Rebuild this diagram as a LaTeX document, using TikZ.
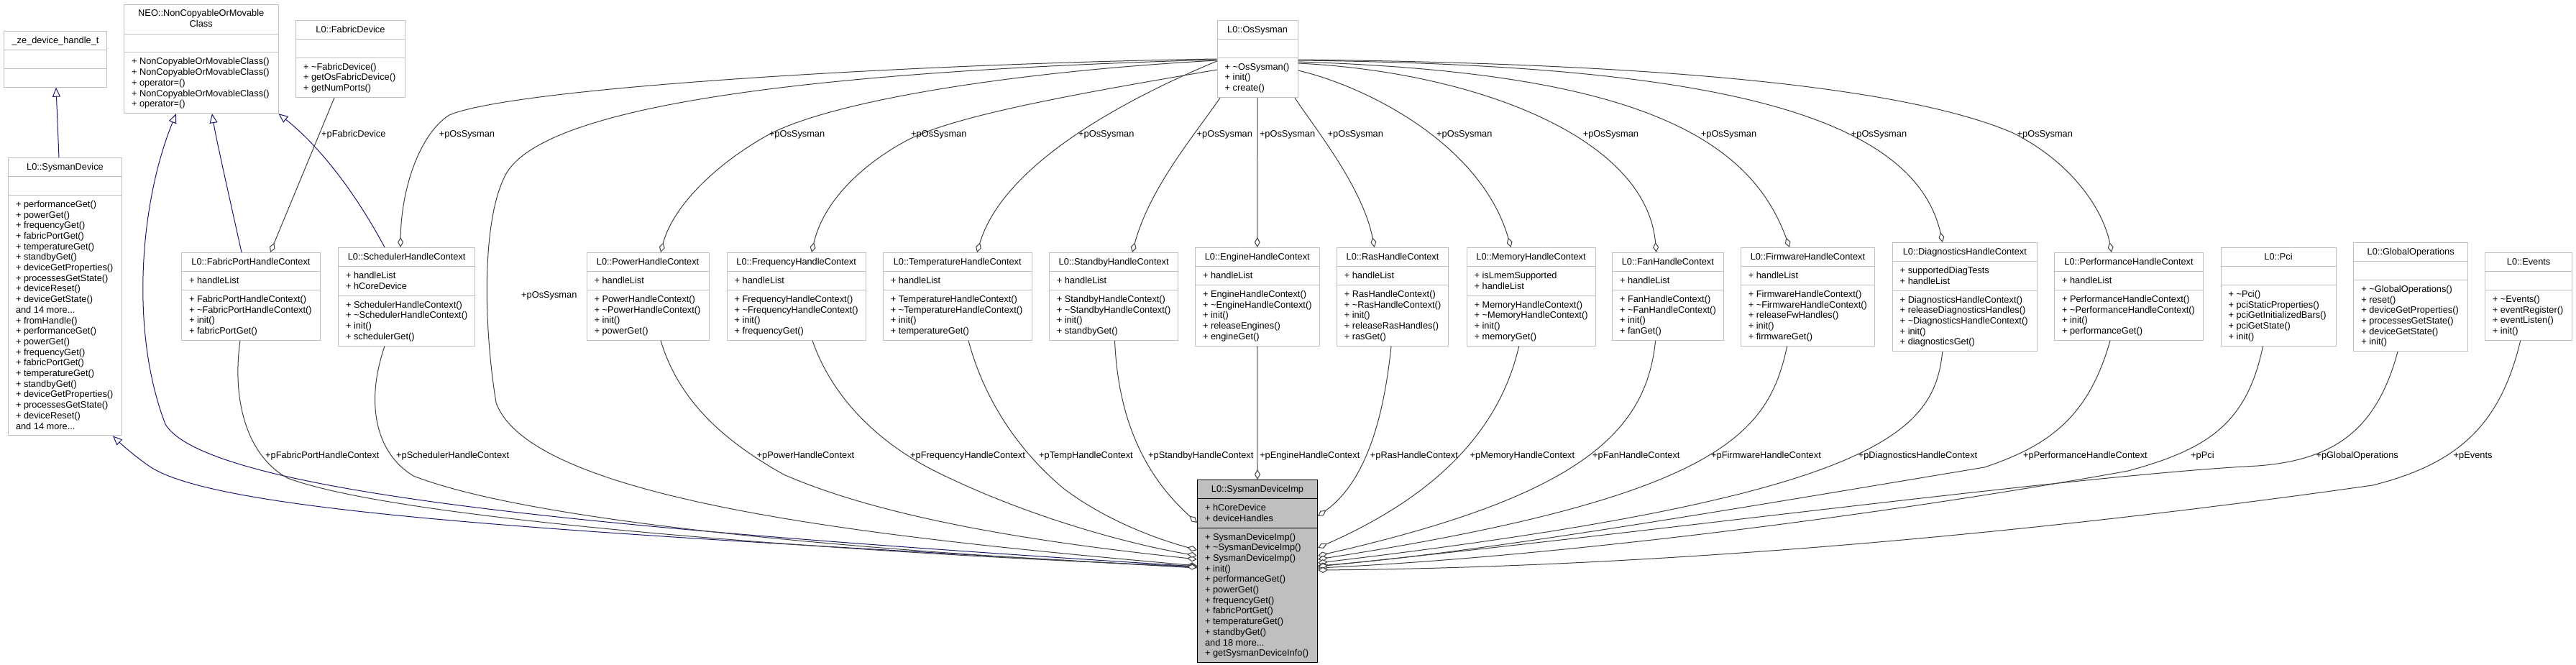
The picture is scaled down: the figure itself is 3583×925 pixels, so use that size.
\documentclass[tikz,border=0pt]{standalone}
\usepackage{fontspec}
\setmainfont{Liberation Sans}
\usetikzlibrary{shapes.multipart,arrows.meta}
\definecolor{boxgrey}{HTML}{BFBFBF}
\definecolor{aggcol}{HTML}{404040}
\definecolor{inhcol}{HTML}{191970}
\newcommand\mystrut{\rule[-3.3pt]{0pt}{14.7pt}}
\newcommand\tl{\textasciitilde}
\begin{document}
\begin{tikzpicture}[x=1pt,y=-1pt,
 cls/.style={rectangle split, rectangle split parts=3, draw=boxgrey, line width=1pt, fill=white,
   inner xsep=10.5pt, inner ysep=5.1pt, rectangle split part align={center,left,left},
   align=left, anchor=north west, font=\fontsize{12.8}{14.7}\selectfont},
 lbl/.style={anchor=west, inner sep=0pt, font=\fontsize{12.8}{14.7}\selectfont},
 agg/.style={draw=aggcol, line width=1pt, -{Diamond[fill=white,length=14pt,width=8pt]}},
 inh/.style={draw=inhcol, line width=1pt, -{Triangle[fill=white,length=13pt,width=11pt]}}]
\fill[white] (0,0) rectangle (3583,925);
\useasboundingbox (0,0) rectangle (3583,925);

% ---------- classes ----------
\node[cls, minimum width=143pt] (ze) at (5,43) {\mystrut \_ze\_device\_handle\_t\nodepart{two}\mystrut\nodepart{three}\mystrut};
\node[cls, minimum width=214.5pt] (neo) at (172,6) {\begin{tabular}{@{}c@{}}NEO::NonCopyableOrMovable\\Class\end{tabular}\nodepart{two}\mystrut\nodepart{three}\mystrut + NonCopyableOrMovableClass()\\\mystrut + NonCopyableOrMovableClass()\\\mystrut + operator=()\\\mystrut + NonCopyableOrMovableClass()\\\mystrut + operator=()};
\node[cls, minimum width=152pt] (fabricdev) at (411,28) {\mystrut L0::FabricDevice\nodepart{two}\mystrut\nodepart{three}\mystrut + \tl FabricDevice()\\\mystrut + getOsFabricDevice()\\\mystrut + getNumPorts()};
\node[cls, minimum width=111.8pt] (ossysman) at (1692.7,28) {\mystrut L0::OsSysman\nodepart{two}\mystrut\nodepart{three}\mystrut + \tl OsSysman()\\\mystrut + init()\\\mystrut + create()};
\node[cls, minimum width=158pt] (sysmandev) at (11,219) {\mystrut L0::SysmanDevice\nodepart{two}\mystrut\nodepart{three}\mystrut + performanceGet()\\\mystrut + powerGet()\\\mystrut + frequencyGet()\\\mystrut + fabricPortGet()\\\mystrut + temperatureGet()\\\mystrut + standbyGet()\\\mystrut + deviceGetProperties()\\\mystrut + processesGetState()\\\mystrut + deviceReset()\\\mystrut + deviceGetState()\\\mystrut and 14 more...\\\mystrut + fromHandle()\\\mystrut + performanceGet()\\\mystrut + powerGet()\\\mystrut + frequencyGet()\\\mystrut + fabricPortGet()\\\mystrut + temperatureGet()\\\mystrut + standbyGet()\\\mystrut + deviceGetProperties()\\\mystrut + processesGetState()\\\mystrut + deviceReset()\\\mystrut and 14 more...};
\node[cls, minimum width=193pt] (fabricport) at (252,351) {\mystrut L0::FabricPortHandleContext\nodepart{two}\mystrut + handleList\nodepart{three}\mystrut + FabricPortHandleContext()\\\mystrut + \tl FabricPortHandleContext()\\\mystrut + init()\\\mystrut + fabricPortGet()};
\node[cls, minimum width=190pt] (scheduler) at (470,344) {\mystrut L0::SchedulerHandleContext\nodepart{two}\mystrut + handleList\\\mystrut + hCoreDevice\nodepart{three}\mystrut + SchedulerHandleContext()\\\mystrut + \tl SchedulerHandleContext()\\\mystrut + init()\\\mystrut + schedulerGet()};
\node[cls, minimum width=170.2pt] (power) at (815.5,351) {\mystrut L0::PowerHandleContext\nodepart{two}\mystrut + handleList\nodepart{three}\mystrut + PowerHandleContext()\\\mystrut + \tl PowerHandleContext()\\\mystrut + init()\\\mystrut + powerGet()};
\node[cls, minimum width=193.1pt] (frequency) at (1010.6,351) {\mystrut L0::FrequencyHandleContext\nodepart{two}\mystrut + handleList\nodepart{three}\mystrut + FrequencyHandleContext()\\\mystrut + \tl FrequencyHandleContext()\\\mystrut + init()\\\mystrut + frequencyGet()};
\node[cls, minimum width=206.9pt] (temperature) at (1227.8,351) {\mystrut L0::TemperatureHandleContext\nodepart{two}\mystrut + handleList\nodepart{three}\mystrut + TemperatureHandleContext()\\\mystrut + \tl TemperatureHandleContext()\\\mystrut + init()\\\mystrut + temperatureGet()};
\node[cls, minimum width=179.6pt] (standby) at (1458.8,351) {\mystrut L0::StandbyHandleContext\nodepart{two}\mystrut + handleList\nodepart{three}\mystrut + StandbyHandleContext()\\\mystrut + \tl StandbyHandleContext()\\\mystrut + init()\\\mystrut + standbyGet()};
\node[cls, minimum width=172.5pt] (engine) at (1662,344) {\mystrut L0::EngineHandleContext\nodepart{two}\mystrut + handleList\nodepart{three}\mystrut + EngineHandleContext()\\\mystrut + \tl EngineHandleContext()\\\mystrut + init()\\\mystrut + releaseEngines()\\\mystrut + engineGet()};
\node[cls, minimum width=155.5pt] (ras) at (1858.8,344) {\mystrut L0::RasHandleContext\nodepart{two}\mystrut + handleList\nodepart{three}\mystrut + RasHandleContext()\\\mystrut + \tl RasHandleContext()\\\mystrut + init()\\\mystrut + releaseRasHandles()\\\mystrut + rasGet()};
\node[cls, minimum width=178.4pt] (memory) at (2039.6,344) {\mystrut L0::MemoryHandleContext\nodepart{two}\mystrut + isLmemSupported\\\mystrut + handleList\nodepart{three}\mystrut + MemoryHandleContext()\\\mystrut + \tl MemoryHandleContext()\\\mystrut + init()\\\mystrut + memoryGet()};
\node[cls, minimum width=154pt] (fan) at (2242,351) {\mystrut L0::FanHandleContext\nodepart{two}\mystrut + handleList\nodepart{three}\mystrut + FanHandleContext()\\\mystrut + \tl FanHandleContext()\\\mystrut + init()\\\mystrut + fanGet()};
\node[cls, minimum width=186.2pt] (firmware) at (2420.8,344) {\mystrut L0::FirmwareHandleContext\nodepart{two}\mystrut + handleList\nodepart{three}\mystrut + FirmwareHandleContext()\\\mystrut + \tl FirmwareHandleContext()\\\mystrut + releaseFwHandles()\\\mystrut + init()\\\mystrut + firmwareGet()};
\node[cls, minimum width=201.3pt] (diagnostics) at (2631.7,337) {\mystrut L0::DiagnosticsHandleContext\nodepart{two}\mystrut + supportedDiagTests\\\mystrut + handleList\nodepart{three}\mystrut + DiagnosticsHandleContext()\\\mystrut + releaseDiagnosticsHandles()\\\mystrut + \tl DiagnosticsHandleContext()\\\mystrut + init()\\\mystrut + diagnosticsGet()};
\node[cls, minimum width=207pt] (performance) at (2857,351) {\mystrut L0::PerformanceHandleContext\nodepart{two}\mystrut + handleList\nodepart{three}\mystrut + PerformanceHandleContext()\\\mystrut + \tl PerformanceHandleContext()\\\mystrut + init()\\\mystrut + performanceGet()};
\node[cls, minimum width=160pt] (pci) at (3088.5,344) {\mystrut L0::Pci\nodepart{two}\mystrut\nodepart{three}\mystrut + \tl Pci()\\\mystrut + pciStaticProperties()\\\mystrut + pciGetInitializedBars()\\\mystrut + pciGetState()\\\mystrut + init()};
\node[cls, minimum width=158.7pt] (globalops) at (3273.3,337) {\mystrut L0::GlobalOperations\nodepart{two}\mystrut\nodepart{three}\mystrut + \tl GlobalOperations()\\\mystrut + reset()\\\mystrut + deviceGetProperties()\\\mystrut + processesGetState()\\\mystrut + deviceGetState()\\\mystrut + init()};
\node[cls, minimum width=121.6pt] (events) at (3455.8,351) {\mystrut L0::Events\nodepart{two}\mystrut\nodepart{three}\mystrut + \tl Events()\\\mystrut + eventRegister()\\\mystrut + eventListen()\\\mystrut + init()};
\node[cls, minimum width=167pt, fill=boxgrey, draw=black] (imp) at (1665,667) {\mystrut L0::SysmanDeviceImp\nodepart{two}\mystrut + hCoreDevice\\\mystrut + deviceHandles\nodepart{three}\mystrut + SysmanDeviceImp()\\\mystrut + \tl SysmanDeviceImp()\\\mystrut + SysmanDeviceImp()\\\mystrut + init()\\\mystrut + performanceGet()\\\mystrut + powerGet()\\\mystrut + frequencyGet()\\\mystrut + fabricPortGet()\\\mystrut + temperatureGet()\\\mystrut + standbyGet()\\\mystrut and 18 more...\\\mystrut + getSysmanDeviceInfo()};

% ---------- inheritance ----------
\draw[inh] ([xshift=71pt]sysmandev.north west) -- ([xshift=73pt]ze.south west);
\draw[inh] ([yshift=-121pt]imp.north west) .. controls (900,740) and (290,690) .. (230,590) .. controls (180,460) and (195,280) .. ([xshift=73pt]neo.south west);
\draw[inh] ([yshift=-123pt]imp.north west) .. controls (900,745) and (320,720) .. (210,650) .. controls (185,633) and (168,617) .. ([xshift=146pt]sysmandev.south west);
\draw[inh] ([xshift=84pt]fabricport.north west) .. controls (318,270) and (300,190) .. ([xshift=123pt]neo.south west);
\draw[inh] ([xshift=65pt]scheduler.north west) .. controls (490,260) and (440,200) .. (neo.south east);

% ---------- aggregation (top) ----------
\draw[agg] ([xshift=54pt]fabricdev.south west) -- ([xshift=124pt]fabricport.north west);
\draw[agg] ([yshift=-54pt]ossysman.north west) .. controls (1300,88) and (720,120) .. (625,160) .. controls (585,185) and (558,260) .. ([xshift=87pt]scheduler.north west);
\draw[agg] ([yshift=-55pt]ossysman.north west) .. controls (1100,100) and (760,150) .. (705,240) .. controls (670,300) and (672,450) .. (690,560) .. controls (740,700) and (1250,750) .. ([yshift=-120pt]imp.north west);
\draw[agg] ([yshift=-56pt]ossysman.north west) .. controls (1400,100) and (1150,142) .. (1066,189) .. controls (990,232) and (935,290) .. ([xshift=103.5pt]power.north west);
\draw[agg] ([yshift=-69pt]ossysman.north west) .. controls (1500,130) and (1330,160) .. (1262,195) .. controls (1200,228) and (1145,280) .. ([xshift=118.4pt]frequency.north west);
\draw[agg] ([yshift=-57pt]ossysman.north west) .. controls (1560,140) and (1395,230) .. ([xshift=131.2pt]temperature.north west);
\draw[agg] ([xshift=4.3pt]ossysman.south west) .. controls (1660,190) and (1600,260) .. ([xshift=116pt]standby.north west);
\draw[agg] (ossysman.south) -- (engine.north);
\draw[agg] ([xshift=-4.5pt]ossysman.south east) .. controls (1830,180) and (1895,260) .. ([xshift=53pt]ras.north west);
\draw[agg] ([yshift=-70pt]ossysman.north east) .. controls (1900,120) and (2060,200) .. ([xshift=62pt]memory.north west);
\draw[agg] ([yshift=-60pt]ossysman.north east) .. controls (2050,100) and (2290,190) .. ([xshift=61.7pt]fan.north west);
\draw[agg] ([yshift=-58pt]ossysman.north east) .. controls (2250,100) and (2430,180) .. ([xshift=68.2pt]firmware.north west);
\draw[agg] ([yshift=-56pt]ossysman.north east) .. controls (2350,90) and (2660,150) .. ([xshift=70.3pt]diagnostics.north west);
\draw[agg] ([yshift=-55pt]ossysman.north east) .. controls (2300,88) and (2650,120) .. (2800,185) .. controls (2880,225) and (2925,290) .. ([xshift=80pt]performance.north west);

% ---------- aggregation (bottom) ----------
\draw[agg] ([xshift=82pt]fabricport.south west) .. controls (322,560) and (345,635) .. (400,665) .. controls (560,725) and (1200,770) .. ([yshift=-121pt]imp.north west);
\draw[agg] ([xshift=65pt]scheduler.south west) .. controls (508,560) and (522,630) .. (575,662) .. controls (750,730) and (1250,770) .. ([yshift=-122pt]imp.north west);
\draw[agg] ([xshift=103.5pt]power.south west) .. controls (945,560) and (1010,615) .. (1090,660) .. controls (1250,730) and (1500,760) .. ([yshift=-111pt]imp.north west);
\draw[agg] ([xshift=119.4pt]frequency.south west) .. controls (1160,560) and (1230,620) .. (1300,655) .. controls (1420,715) and (1560,755) .. ([yshift=-106pt]imp.north west);
\draw[agg] ([xshift=119.2pt]temperature.south west) .. controls (1370,560) and (1420,630) .. (1480,680) .. controls (1540,725) and (1610,750) .. ([yshift=-98pt]imp.north west);
\draw[agg] ([xshift=91.7pt]standby.south west) .. controls (1555,580) and (1590,660) .. ([yshift=-60pt]imp.north west);
\draw[agg] (engine.south) -- (imp.north);
\draw[agg] ([xshift=76.2pt]ras.south west) .. controls (1925,580) and (1900,670) .. ([yshift=-51pt]imp.north east);
\draw[agg] ([xshift=73.1pt]memory.south west) .. controls (2090,580) and (2020,680) .. ([yshift=-95pt]imp.north east);
\draw[agg] ([xshift=60.6pt]fan.south west) .. controls (2290,600) and (2200,690) .. ([yshift=-106pt]imp.north east);
\draw[agg] ([xshift=64.9pt]firmware.south west) .. controls (2460,600) and (2400,690) .. ([yshift=-111pt]imp.north east);
\draw[agg] ([xshift=70.1pt]diagnostics.south west) .. controls (2690,600) and (2620,690) .. ([yshift=-116pt]imp.north east);
\draw[agg] ([xshift=78pt]performance.south west) .. controls (2905,580) and (2850,620) .. (2760,650) .. controls (2400,710) and (2050,770) .. ([yshift=-120pt]imp.north east);
\draw[agg] ([xshift=59pt]pci.south west) .. controls (3125,590) and (3070,625) .. (2960,655) .. controls (2600,720) and (2150,775) .. ([yshift=-123pt]imp.north east);
\draw[agg] ([xshift=61.7pt]globalops.south west) .. controls (3305,600) and (3245,640) .. (3140,648) .. controls (2900,660) and (2300,740) .. ([yshift=-121pt]imp.north east);
\draw[agg] ([xshift=49.9pt]events.south west) .. controls (3478,590) and (3420,645) .. (3300,675) .. controls (2700,760) and (2200,790) .. ([yshift=-126pt]imp.north east);

% ---------- labels ----------
\node[lbl] (lfd) at (447,187) {+pFabricDevice};
\node[lbl] (lo1) at (610.6,187) {+pOsSysman};
\node[lbl] (lo2) at (725,411) {+pOsSysman};
\node[lbl] (lo3) at (1069.8,187) {+pOsSysman};
\node[lbl] (lo4) at (1267,187) {+pOsSysman};
\node[lbl] (lo5) at (1500,187) {+pOsSysman};
\node[lbl] (lo6) at (1664.5,187) {+pOsSysman};
\node[lbl] (lo7) at (1751.8,187) {+pOsSysman};
\node[lbl] (lo8) at (1846.5,187) {+pOsSysman};
\node[lbl] (lo9) at (1998,187) {+pOsSysman};
\node[lbl] (lo10) at (2201.6,187) {+pOsSysman};
\node[lbl] (lo11) at (2365.7,187) {+pOsSysman};
\node[lbl] (lo12) at (2574.7,187) {+pOsSysman};
\node[lbl] (lo13) at (2805.5,187) {+pOsSysman};

\node[lbl] (lb1) at (369,634) {+pFabricPortHandleContext};
\node[lbl] (lb2) at (551,634) {+pSchedulerHandleContext};
\node[lbl] (lb3) at (1052.5,634) {+pPowerHandleContext};
\node[lbl] (lb4) at (1266,634) {+pFrequencyHandleContext};
\node[lbl] (lb5) at (1445,634) {+pTempHandleContext};
\node[lbl] (lb6) at (1597,634) {+pStandbyHandleContext};
\node[lbl] (lb7) at (1752,634) {+pEngineHandleContext};
\node[lbl] (lb8) at (1905.7,634) {+pRasHandleContext};
\node[lbl] (lb9) at (2044.5,634) {+pMemoryHandleContext};
\node[lbl] (lb10) at (2215,634) {+pFanHandleContext};
\node[lbl] (lb11) at (2380,634) {+pFirmwareHandleContext};
\node[lbl] (lb12) at (2584.6,634) {+pDiagnosticsHandleContext};
\node[lbl] (lb13) at (2814,634) {+pPerformanceHandleContext};
\node[lbl] (lb14) at (3047,634) {+pPci};
\node[lbl] (lb15) at (3221.4,634) {+pGlobalOperations};
\node[lbl] (lb16) at (3412.5,634) {+pEvents};
\end{tikzpicture}
\end{document}
